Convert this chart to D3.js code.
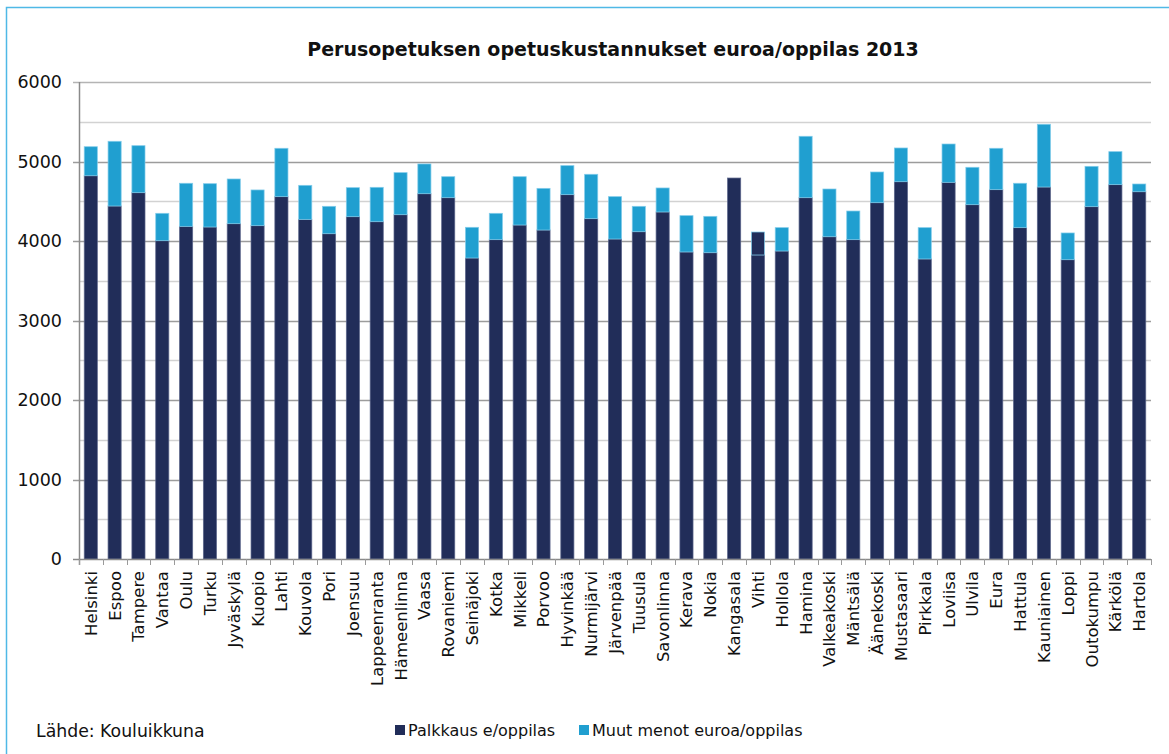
<!DOCTYPE html>
<html><head><meta charset="utf-8">
<script src="https://cdn.jsdelivr.net/npm/d3@7"></script>
<style>
html,body{margin:0;padding:0;background:#fff;}
svg{display:block;font-family:"DejaVu Sans",Verdana,sans-serif;}
</style></head>
<body>
<svg id="c" width="1169" height="754"></svg>
<script>
const title = "Perusopetuksen opetuskustannukset euroa/oppilas 2013";
const categories = ["Helsinki","Espoo","Tampere","Vantaa","Oulu","Turku","Jyväskylä","Kuopio","Lahti","Kouvola","Pori","Joensuu","Lappeenranta","Hämeenlinna","Vaasa","Rovaniemi","Seinäjoki","Kotka","Mikkeli","Porvoo","Hyvinkää","Nurmijärvi","Järvenpää","Tuusula","Savonlinna","Kerava","Nokia","Kangasala","Vihti","Hollola","Hamina","Valkeakoski","Mäntsälä","Äänekoski","Mustasaari","Pirkkala","Loviisa","Ulvila","Eura","Hattula","Kauniainen","Loppi","Outokumpu","Kärkölä","Hartola"];
const palkkaus = [4821,4440,4608,4004,4184,4176,4218,4193,4558,4272,4092,4306,4243,4331,4595,4545,3786,4017,4201,4138,4583,4281,4025,4117,4365,3862,3853,4792,3824,3874,4545,4054,4017,4482,4746,3774,4738,4457,4646,4168,4679,3765,4432,4709,4620];
const muut = [365,814,591,344,542,545,562,449,608,428,344,365,432,529,374,264,386,331,608,524,365,558,533,319,302,457,457,0,289,294,772,600,360,386,424,394,482,470,520,558,789,336,507,415,97];
const seriesNames = ["Palkkaus e/oppilas","Muut menot euroa/oppilas"];
const seriesColors = ["#212d59","#209fd0"];
const muutDrawnDark = ["Vihti"];
const yTicks = [0,1000,2000,3000,4000,5000,6000];
const source = "Lähde: Kouluikkuna";

const svg = d3.select("#c");
// frame
svg.append("rect").attr("x",6.5).attr("y",7.5).attr("width",1200).attr("height",800)
  .attr("fill","none").attr("stroke","#4fb9e6").attr("stroke-width",1.5);

const L=79, R=1151, T=82, B=559;
const x = d3.scaleBand().domain(categories).range([L,R]).paddingInner(0.45).paddingOuter(0.22);
const y = d3.scaleLinear().domain([0,6000]).range([B,T]);

// gridlines (minor every 500, major every 1000)
const minor = d3.range(500,6000,1000);
svg.append("g").selectAll("line").data(minor).join("line")
  .attr("x1",L).attr("x2",R).attr("y1",d=>Math.round(y(d))+0.5).attr("y2",d=>Math.round(y(d))+0.5)
  .attr("stroke","#d2d2d2").attr("stroke-width",1.5);
svg.append("g").selectAll("line").data(yTicks.filter(d=>d>0)).join("line")
  .attr("x1",L-6).attr("x2",R).attr("y1",d=>Math.round(y(d))+0.5).attr("y2",d=>Math.round(y(d))+0.5)
  .attr("stroke",d=>d===6000?"#b4b4b4":"#9c9c9c").attr("stroke-width",1.5);

// y labels
svg.append("g").selectAll("text").data(yTicks).join("text")
  .attr("x",62).attr("y",d=>y(d)).attr("dy","0.36em").attr("text-anchor","end")
  .attr("font-size",17.5).attr("fill","#111").text(d=>d);

// stacked bars
const rows = categories.map((c,i)=>({cat:c, palkkaus:palkkaus[i], muut:muut[i]}));
const stack = d3.stack().keys(["palkkaus","muut"])(rows);
svg.append("g").selectAll("g").data(stack).join("g")
  .selectAll("rect").data((s,k)=>s.map(d=>({d,k}))).join("rect")
  .attr("x",o=>x(o.d.data.cat)).attr("width",x.bandwidth())
  .attr("y",o=>y(o.d[1])).attr("height",o=>y(o.d[0])-y(o.d[1]))
  .attr("fill",o=>(o.k===1 && muutDrawnDark.includes(o.d.data.cat))?seriesColors[0]:seriesColors[o.k])
  .attr("stroke",o=>o.k===1?"#7fcbea":"#5a6489").attr("stroke-width",0.8)
  .attr("stroke-opacity",o=>(o.d[1]-o.d[0])>0?0.9:0);

// axes lines
svg.append("line").attr("x1",L+0.5).attr("x2",L+0.5).attr("y1",T).attr("y2",B+6).attr("stroke","#8a8a8a").attr("stroke-width",1.5);
svg.append("line").attr("x1",L-6).attr("x2",R).attr("y1",B+0.5).attr("y2",B+0.5).attr("stroke","#8a8a8a").attr("stroke-width",1.5);
// x tick marks at band boundaries
const bounds = categories.map(c=>x(c)-x.step()*x.paddingInner()/2).concat([R]);
svg.append("g").selectAll("line").data(bounds).join("line")
  .attr("x1",d=>Math.round(d)+0.5).attr("x2",d=>Math.round(d)+0.5).attr("y1",B).attr("y2",B+6)
  .attr("stroke","#9a9a9a").attr("stroke-width",1);

// category labels
svg.append("g").selectAll("text").data(categories).join("text")
  .attr("transform",c=>`translate(${x(c)+x.bandwidth()/2},${B+12}) rotate(-90)`)
  .attr("dy","0.36em").attr("text-anchor","end").attr("font-size",16.5).attr("fill","#111").text(c=>c);

// title
svg.append("text").attr("x",613).attr("y",56).attr("text-anchor","middle")
  .attr("font-size",19).attr("font-weight","bold").attr("fill","#111").text(title);

// source
svg.append("text").attr("x",36).attr("y",737).attr("font-size",17.3).attr("fill","#111").text(source);

// legend
const legX = [395,579];
const lg = svg.append("g").selectAll("g").data(seriesNames).join("g")
  .attr("transform",(d,i)=>`translate(${legX[i]},725)`);
lg.append("rect").attr("width",10).attr("height",10).attr("fill",(d,i)=>seriesColors[i]);
lg.append("text").attr("x",13).attr("y",11).attr("font-size",16).attr("fill","#111").text(d=>d);
</script>
</body></html>
